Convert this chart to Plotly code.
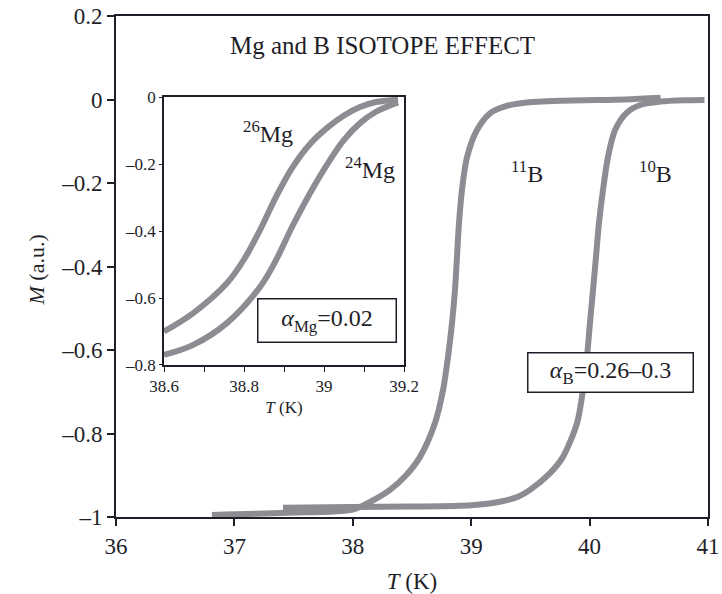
import plotly.graph_objects as go

# ---- data ----
B11_T = [36.81, 37.44, 38.0, 38.145, 38.314, 38.45, 38.568, 38.694, 38.762, 38.804, 38.838, 38.863,
         38.88, 38.897, 38.922, 38.965, 39.049, 39.159, 39.28, 39.45, 39.78, 40.3, 40.6]
B11_M = [-0.995, -0.99, -0.982, -0.964, -0.935, -0.90, -0.856, -0.775, -0.696, -0.617, -0.535, -0.456,
         -0.377, -0.296, -0.217, -0.138, -0.073, -0.033, -0.017, -0.008, -0.003, 0.0, 0.004]

B10_T = [37.41, 38.0, 38.5, 39.0, 39.25, 39.4, 39.497, 39.666, 39.775, 39.894, 39.944, 39.978, 40.003,
         40.029, 40.054, 40.079, 40.113, 40.155, 40.215, 40.316, 40.44, 40.6, 40.8, 40.97]
B10_M = [-0.978, -0.976, -0.975, -0.972, -0.963, -0.951, -0.935, -0.895, -0.856, -0.775, -0.696, -0.617, -0.535,
         -0.456, -0.377, -0.296, -0.217, -0.138, -0.073, -0.031, -0.012, -0.005, -0.002, -0.001]

Mg26_T = [38.6, 38.673, 38.757, 38.80, 38.84, 38.88, 38.92, 38.965, 39.01, 39.05, 39.09, 39.13, 39.185]
Mg26_M = [-0.70, -0.645, -0.556, -0.485, -0.397, -0.298, -0.212, -0.14, -0.09, -0.055, -0.03, -0.015, -0.008]

Mg24_T = [38.6, 38.673, 38.757, 38.84, 38.88, 38.92, 38.965, 39.01, 39.05, 39.09, 39.13, 39.185]
Mg24_M = [-0.77, -0.74, -0.675, -0.567, -0.487, -0.388, -0.287, -0.197, -0.128, -0.078, -0.044, -0.016]

main_xticks = [36, 37, 38, 39, 40, 41]
main_yticks = [-1, -0.8, -0.6, -0.4, -0.2, 0, 0.2]
main_ytext = ["\u20131", "\u20130.8", "\u20130.6", "\u20130.4", "\u20130.2", "0", "0.2"]
inset_xticks = [38.6, 38.7, 38.8, 38.9, 39.0, 39.1, 39.2]
inset_xtext = ["38.6", "", "38.8", "", "39", "", "39.2"]
inset_yticks = [-0.8, -0.6, -0.4, -0.2, 0]
inset_ytext = ["\u20130.8", "\u20130.6", "\u20130.4", "\u20130.2", "0"]

FONT = "Liberation Serif, Times New Roman, serif"
GRAY = "rgb(140,141,146)"
INK = "#1e1e28"

fig = go.Figure()
for T, M in [(B11_T, B11_M), (B10_T, B10_M)]:
    fig.add_trace(go.Scatter(x=T, y=M, mode="lines",
                             line=dict(color=GRAY, width=6, shape="spline", smoothing=0.8),
                             xaxis="x", yaxis="y", showlegend=False, hoverinfo="skip"))
for T, M in [(Mg26_T, Mg26_M), (Mg24_T, Mg24_M)]:
    fig.add_trace(go.Scatter(x=T, y=M, mode="lines",
                             line=dict(color=GRAY, width=6, shape="spline", smoothing=1.0),
                             xaxis="x2", yaxis="y2", showlegend=False, hoverinfo="skip"))

axcommon = dict(showgrid=False, zeroline=False, linecolor=INK, tickcolor=INK, automargin=False)

fig.update_layout(
    width=722, height=594,
    margin=dict(l=116, r=14, t=16, b=77),
    paper_bgcolor="white", plot_bgcolor="white",
    font=dict(family=FONT, color=INK),
    xaxis=dict(**axcommon, range=[36, 41], domain=[0, 1], anchor="y",
               tickvals=main_xticks, ticks="outside", ticklen=7, tickwidth=1.5,
               linewidth=1.8, mirror=True, tickfont=dict(size=23),
               title=dict(text="<i>T</i> (K)", font=dict(size=23), standoff=17)),
    yaxis=dict(**axcommon, range=[-1, 0.2], domain=[0, 1], anchor="x",
               tickvals=main_yticks, ticktext=main_ytext, ticks="outside", ticklen=7, tickwidth=1.5,
               linewidth=1.8, mirror=True, tickfont=dict(size=23)),
    xaxis3=dict(**axcommon, range=[36, 41], overlaying="x", anchor="y", side="bottom",
                tickvals=main_xticks, ticks="inside", ticklen=7, tickwidth=1.5,
                showticklabels=False, showline=False),
    yaxis3=dict(**axcommon, range=[-1, 0.2], overlaying="y", anchor="x", side="left",
                tickvals=main_yticks, ticks="inside", ticklen=7, tickwidth=1.5,
                showticklabels=False, showline=False),
    xaxis2=dict(**axcommon, range=[38.6, 39.2], domain=[0.0811, 0.4865], anchor="y2",
                tickvals=inset_xticks, ticktext=inset_xtext, ticks="outside", ticklen=5, tickwidth=1.3,
                linewidth=1.5, mirror=True, tickfont=dict(size=17),
                title=dict(text="<i>T</i> (K)", font=dict(size=17), standoff=6)),
    yaxis2=dict(**axcommon, range=[-0.8, 0], domain=[0.3034, 0.8383], anchor="x2",
                tickvals=inset_yticks, ticktext=inset_ytext, ticks="outside", ticklen=3, tickwidth=1.3,
                linewidth=1.5, mirror=True, tickfont=dict(size=17)),
    xaxis4=dict(**axcommon, range=[38.6, 39.2], overlaying="x2", anchor="y2", side="bottom",
                tickvals=inset_xticks, ticks="inside", ticklen=5, tickwidth=1.3,
                showticklabels=False, showline=False),
    yaxis4=dict(**axcommon, range=[-0.8, 0], overlaying="y2", anchor="x2", side="left",
                tickvals=inset_yticks, ticks="inside", ticklen=3, tickwidth=1.3,
                showticklabels=False, showline=False),
)

ann = [
    dict(x=-0.1588, y=0.493, xref="paper", yref="paper", text="<i>M</i> (a.u.)", textangle=-90,
         font=dict(size=22)),
    dict(x=38.255, y=0.1305, xref="x", yref="y", text="Mg and B ISOTOPE EFFECT", font=dict(size=25)),
    dict(x=39.47, y=-0.174, xref="x", yref="y", text="<sup>11</sup>B", font=dict(size=24)),
    dict(x=40.56, y=-0.174, xref="x", yref="y", text="<sup>10</sup>B", font=dict(size=24)),
    dict(x=38.861, y=-0.104, xref="x2", yref="y2", text="<sup>26</sup>Mg", font=dict(size=24)),
    dict(x=39.116, y=-0.212, xref="x2", yref="y2", text="<sup>24</sup>Mg", font=dict(size=24)),
    dict(x=39.0075, y=-0.667, xref="x2", yref="y2", text="<i>\u03b1</i><sub>Mg</sub>=0.02",
         font=dict(size=24), bordercolor=INK, borderwidth=1.5, borderpad=0, width=137, height=42,
         bgcolor="white"),
    dict(x=40.176, y=-0.654, xref="x", yref="y", text="<i>\u03b1</i><sub>B</sub>=0.26\u20130.3",
         font=dict(size=24), bordercolor=INK, borderwidth=1.5, borderpad=0, width=164, height=38,
         bgcolor="white"),
]
for a in ann:
    a.setdefault("showarrow", False)
    fig.add_annotation(**a)

fig.write_html("out.html")
